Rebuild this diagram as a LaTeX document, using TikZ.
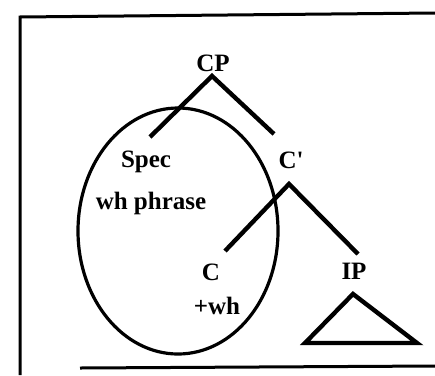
\documentclass[tikz,border=0pt]{standalone}
\usepackage{fontspec}
\setmainfont{Liberation Serif}
\usetikzlibrary{positioning}

\begin{document}
\begin{tikzpicture}[x=1pt, y=-1pt,
    label/.style={font=\bfseries\fontsize{25}{30}\selectfont, inner sep=0pt},
    branch/.style={line width=4.4pt},
    frame/.style={line width=3pt}]
    \useasboundingbox (0,0) rectangle (435,375);

    % frame (open on the right)
    \draw[frame] (435,13) -- (20,17) -- (20,375);
    \draw[frame] (80,368) -- (435,366);

    % labels
    \node[label] (CP) at (213,63) {CP};
    \node[label] (Spec) at (146,162) {Spec};
    \node[label] (whphrase) at (151,203) {wh phrase};
    \node[label] (Cbar) at (291,160) {C\textquotesingle};
    \node[label] (C) at (211,272) {C};
    \node[label] (plus) at (217,306) {+wh};
    \node[label] (IP) at (354,271) {IP};

    % branch ends
    \coordinate (cp-top) at (212,76);
    \coordinate (spec-top) at (150,137);
    \coordinate (cbar-foot) at (274,134);
    \coordinate (cbar-top) at (289,184);
    \coordinate (c-foot) at (225,251);
    \coordinate (ip-foot) at (358,254);

    \draw[branch] (spec-top) -- (cp-top) -- (cbar-foot);
    \draw[branch] (c-foot) -- (cbar-top) -- (ip-foot);

    % IP triangle
    \draw[branch] (353,294) -- (305,343) -- (417,343) -- cycle;

    % circled Spec / C
    \draw[line width=3.2pt] (178,231) ellipse [x radius=100, y radius=123];
\end{tikzpicture}
\end{document}
